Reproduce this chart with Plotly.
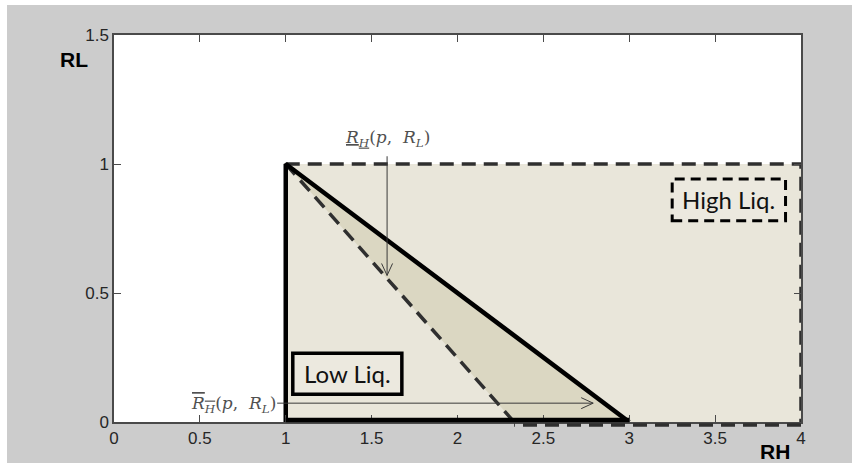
import plotly.graph_objects as go
import numpy as np

# ---------------- data ----------------
rh_low = 1.0          # RH where low-liquidity region starts
rh_solid_end = 3.0    # solid diagonal hits RL = 0
rh_dash_end = 2.33    # dashed diagonal hits RL = 0
rh_max = 4.0
rl_max = 1.0

region_x = [rh_low, rh_max, rh_max, rh_low, rh_low]
region_y = [0, 0, rl_max, rl_max, 0]
tri_x = [rh_low, rh_dash_end, rh_solid_end, rh_low]
tri_y = [rl_max, 0, 0, rl_max]
solid_x = [rh_solid_end, rh_low, rh_low]
solid_y = [0, rl_max, 0]
solid_bot_x = [rh_low, rh_solid_end]
dash_top_x = [rh_low, rh_max, rh_max]
dash_top_y = [rl_max, rl_max, 0]
dash_bot_x = [rh_max, rh_dash_end]
dash_diag_x = [rh_low, rh_dash_end]
dash_diag_y = [rl_max, 0]

arrow_top = dict(x0=1.59, y0=1.03, x1=1.59, y1=0.568)
arrow_bot = dict(x0=0.95, y0=0.073, x1=2.79, y1=0.073)

x_ticks = [0, 0.5, 1, 1.5, 2, 2.5, 3, 3.5, 4]
x_tick_text = ["0", "0.5", "1", "1.5", "2", "2.5", "3", "3.5", "4"]
y_ticks = [0, 0.5, 1, 1.5]
y_tick_text = ["0", "0.5", "1", "1.5"]

# ---------------- layout constants ----------------
W, H = 852, 465
ML, MR, MT, MB = 114, 51, 35, 43
XR = [0, 4]
YR = [0, 1.5]
PW, PH = W - ML - MR, H - MT - MB
pxx = PW / (XR[1] - XR[0])
pxy = PH / (YR[1] - YR[0])

LIGHT = "#e9e6da"
DARK = "#dbd7c2"
DASHC = "#2f2f2f"
ARROWC = "#3a3a3a"
DASH = "14px,8px"

fig = go.Figure()
fig.add_trace(go.Scatter(x=region_x, y=region_y, fill="toself", fillcolor=LIGHT,
                         mode="lines", line=dict(width=0), hoverinfo="skip"))
fig.add_trace(go.Scatter(x=tri_x, y=tri_y, fill="toself", fillcolor=DARK,
                         mode="lines", line=dict(width=0), hoverinfo="skip"))
for xs, ys in [(dash_top_x, dash_top_y), (dash_diag_x, dash_diag_y)]:
    fig.add_trace(go.Scatter(x=xs, y=ys, mode="lines",
                             line=dict(color=DASHC, width=3.5, dash=DASH),
                             hoverinfo="skip"))
fig.add_trace(go.Scatter(x=solid_x, y=solid_y, mode="lines",
                         line=dict(color="black", width=4.5), hoverinfo="skip"))

# bottom edges sit on the axis line: x in data units, y in paper units so they are not clipped
fig.add_shape(type="line", xref="x", yref="paper", x0=dash_bot_x[0], x1=dash_bot_x[1],
              y0=-3 / PH, y1=-3 / PH, line=dict(color=DASHC, width=3.5, dash=DASH))
fig.add_shape(type="line", xref="x", yref="paper", x0=solid_bot_x[0], x1=solid_bot_x[1],
              y0=2 / PH, y1=2 / PH, line=dict(color="black", width=4.5))


def arrow(a, head_len=12, head_w=5.5):
    dxp = (a["x1"] - a["x0"]) * pxx
    dyp = (a["y1"] - a["y0"]) * pxy
    n = np.hypot(dxp, dyp)
    ux, uy = dxp / n, dyp / n
    bx, by = -ux * head_len, -uy * head_len
    px_, py_ = -uy * head_w, ux * head_w
    hx = [a["x1"] + (bx + px_) / pxx, a["x1"], a["x1"] + (bx - px_) / pxx]
    hy = [a["y1"] + (by + py_) / pxy, a["y1"], a["y1"] + (by - py_) / pxy]
    fig.add_trace(go.Scatter(x=[a["x0"], a["x1"]], y=[a["y0"], a["y1"]], mode="lines",
                             line=dict(color=ARROWC, width=1), hoverinfo="skip"))
    fig.add_trace(go.Scatter(x=hx, y=hy, mode="lines",
                             line=dict(color=ARROWC, width=1), hoverinfo="skip"))


arrow(arrow_top)
arrow(arrow_bot)

# label boxes
low_box = dict(x0=1.041, x1=1.676, y0=0.108, y1=0.266)
high_box = dict(x0=3.25, x1=3.91, y0=0.78, y1=0.942)
fig.add_shape(type="rect", xref="x", yref="y", **low_box,
              line=dict(color="black", width=3.5), fillcolor="#ece9df")
fig.add_shape(type="rect", xref="x", yref="y", **high_box,
              line=dict(color="black", width=3, dash="10px,6px"), fillcolor="#ece9df")

box_font = dict(family="Lato, Carlito, sans-serif", size=24, color="#111111")
fig.add_annotation(x=(low_box["x0"] + low_box["x1"]) / 2, y=(low_box["y0"] + low_box["y1"]) / 2,
                   text="Low Liq.", showarrow=False, font=box_font, xref="x", yref="y")
fig.add_annotation(x=(high_box["x0"] + high_box["x1"]) / 2, y=(high_box["y0"] + high_box["y1"]) / 2,
                   text="High Liq.", showarrow=False, font=box_font, xref="x", yref="y")

math_font = dict(family="DejaVu Serif, Liberation Serif, serif", size=17, color="#505050")
fig.add_annotation(x=1.595, y=1.097, xref="x", yref="y", showarrow=False, font=math_font,
                   text='<span style="text-decoration:underline"><i>R</i><sub><i>H</i></sub></span>(<i>p</i>,  <i>R</i><sub><i>L</i></sub>)')
fig.add_annotation(x=0.955, y=0.066, xref="x", yref="y", showarrow=False, font=math_font,
                   xanchor="right",
                   text='<span style="text-decoration:overline"><i>R</i><sub><i>H</i></sub></span>(<i>p</i>,  <i>R</i><sub><i>L</i></sub>)')

title_font = dict(family="Liberation Sans, Arial, sans-serif", size=21, color="black")
fig.add_annotation(xref="paper", yref="paper", x=(74 - ML) / PW, y=(H - MB - 60) / PH,
                   xanchor="center", yanchor="middle",
                   text="<b>RL</b>", showarrow=False, font=title_font)
fig.add_annotation(xref="paper", yref="paper", x=(775 - ML) / PW, y=(H - MB - 452) / PH,
                   xanchor="center", yanchor="middle",
                   text="<b>RH</b>", showarrow=False, font=title_font)


# white outer strips around the grey figure background
def pxrect(x0, y0, x1, y1):
    fig.add_shape(type="rect", xref="paper", yref="paper", layer="above",
                  x0=(x0 - ML) / PW, x1=(x1 - ML) / PW,
                  y0=(H - MB - y1) / PH, y1=(H - MB - y0) / PH,
                  fillcolor="white", line=dict(width=0))


pxrect(0, 0, W, 5)
pxrect(0, 0, 7, H)
pxrect(0, 463, W, H)

tick_font = dict(family="Liberation Sans, Arial, sans-serif", size=17, color="#262626")
axis_common = dict(showgrid=False, zeroline=False, showline=True, linecolor="#4a4a4a",
                   linewidth=1.5, mirror="ticks", ticks="inside", ticklen=7,
                   tickcolor="#4a4a4a", tickwidth=1, tickfont=tick_font)
fig.update_xaxes(range=XR, tickvals=x_ticks, ticktext=x_tick_text, **axis_common)
fig.update_yaxes(range=YR, tickvals=y_ticks, ticktext=y_tick_text, **axis_common)

fig.update_layout(width=W, height=H, margin=dict(l=ML, r=MR, t=MT, b=MB),
                  paper_bgcolor="#cccccc", plot_bgcolor="white", showlegend=False)

fig.write_html("out.html", config={"displayModeBar": False},
               post_script="document.body.style.margin='0px';document.body.style.overflow='hidden';")
